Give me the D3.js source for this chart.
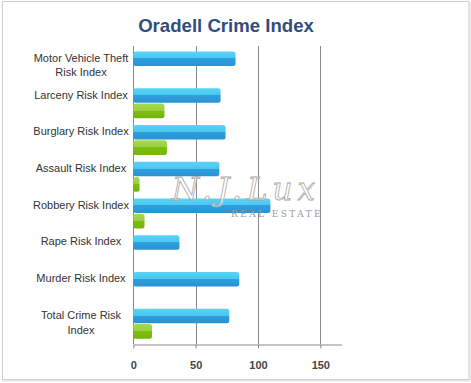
<!DOCTYPE html>
<html>
<head>
<meta charset="utf-8">
<script src="https://cdn.jsdelivr.net/npm/d3@7"></script>
<style>
  html, body { margin: 0; padding: 0; background: #fff; }
  svg { display: block; }
</style>
</head>
<body>
<svg id="chart" width="471" height="383"></svg>
<script>
const categories = [
  "Motor Vehicle Theft Risk Index",
  "Larceny Risk Index",
  "Burglary Risk Index",
  "Assault Risk Index",
  "Robbery Risk Index",
  "Rape Risk Index",
  "Murder Risk Index",
  "Total Crime Risk Index"
];
const labelLines = [
  ["Motor Vehicle Theft", "Risk Index"],
  ["Larceny Risk Index"],
  ["Burglary Risk Index"],
  ["Assault Risk Index"],
  ["Robbery Risk Index"],
  ["Rape Risk Index"],
  ["Murder Risk Index"],
  ["Total Crime Risk", "Index"]
];
const blueValues = [82, 70, 74, 69, 110, 37, 85, 77];
const greenValues = [null, 25, 27, 5, 9, null, null, 15];
const tickValues = [0, 50, 100, 150];
const xMax = 167;

(function () {
const svg = d3.select("#chart");
const defs = svg.append("defs");

function grad(id, c1, c2) {
  const g = defs.append("linearGradient").attr("id", id)
    .attr("x1", 0).attr("y1", 0).attr("x2", 0).attr("y2", 1);
  g.append("stop").attr("offset", "0%").attr("stop-color", c1[0]);
  g.append("stop").attr("offset", "48%").attr("stop-color", c1[1]);
  g.append("stop").attr("offset", "48%").attr("stop-color", c2[0]);
  g.append("stop").attr("offset", "100%").attr("stop-color", c2[1]);
}
grad("gBlue", ["#5ad3f6", "#48c8f0"], ["#2f9fdc", "#2a92d3"]);
grad("gGreen", ["#a6da50", "#98d03e"], ["#80bd12", "#76b408"]);

// frame
const sh = defs.append("filter").attr("id", "shadow").attr("x", "-5%").attr("y", "-5%").attr("width", "110%").attr("height", "110%");
sh.append("feDropShadow").attr("dx", 1).attr("dy", 1).attr("stdDeviation", 0.8).attr("flood-color", "#000").attr("flood-opacity", 0.15);
svg.append("rect").attr("x", 2.5).attr("y", 1.5).attr("width", 466.5).attr("height", 378)
  .attr("fill", "#fff").attr("stroke", "#cfcfcf").attr("stroke-width", 1).attr("filter", "url(#shadow)");

// title
svg.append("text").attr("x", 226).attr("y", 32)
  .attr("text-anchor", "middle")
  .attr("font-family", "Liberation Sans, Arial, sans-serif")
  .attr("font-weight", "bold").attr("font-size", 18.6)
  .attr("fill", "#2f4e7e")
  .text("Oradell Crime Index");

const plotLeft = 133.3, plotTop = 46, plotBottom = 344;
const x = d3.scaleLinear().domain([0, xMax]).range([plotLeft, plotLeft + 1.2467 * xMax]);
const y = d3.scaleBand().domain(categories).range([plotTop, plotBottom]).paddingInner(0).paddingOuter(0.055);
const yi = d3.scaleBand().domain(["blue", "green"]).range([3.4, 33.4]).paddingInner(0.04);

// gridlines
svg.append("g").selectAll("line").data(tickValues).join("line")
  .attr("x1", d => Math.round(x(d)) + 0.5).attr("x2", d => Math.round(x(d)) + 0.5)
  .attr("y1", plotTop).attr("y2", plotBottom)
  .attr("stroke", "#8a8a8a").attr("stroke-width", 1);

// x axis
const axis = svg.append("g").attr("transform", `translate(0,${plotBottom + 0.5})`)
  .call(d3.axisBottom(x).tickValues(tickValues).tickSize(4).tickPadding(13).tickSizeOuter(0));
axis.select(".domain").attr("stroke", "#8a8a8a");
axis.selectAll(".tick line").attr("stroke", "#8a8a8a");
axis.selectAll(".tick text")
  .attr("font-family", "Liberation Sans, Arial, sans-serif")
  .attr("font-size", 11).attr("font-weight", "bold").attr("fill", "#444");

// bars
const bars = svg.append("g");
categories.forEach((c, i) => {
  const g = bars.append("g");
  g.append("rect")
    .attr("x", x(0)).attr("y", y(c) + yi("blue"))
    .attr("width", x(blueValues[i]) - x(0)).attr("height", yi.bandwidth())
    .attr("rx", 2.5).attr("fill", "url(#gBlue)");
  if (greenValues[i] != null) {
    g.append("rect")
      .attr("x", x(0)).attr("y", y(c) + yi("green"))
      .attr("width", x(greenValues[i]) - x(0)).attr("height", yi.bandwidth())
      .attr("rx", 2.5).attr("fill", "url(#gGreen)");
  }
});

// category labels
const labels = svg.append("g")
  .attr("font-family", "Liberation Sans, Arial, sans-serif")
  .attr("font-size", 11).attr("fill", "#333").attr("text-anchor", "middle");
categories.forEach((c, i) => {
  const cy = y(c) + yi("blue") + yi.bandwidth() / 2;
  const t = labels.append("text").attr("x", 81).attr("y", cy + 3);
  labelLines[i].forEach((ln, j) => {
    t.append("tspan").attr("x", 81).attr("dy", j === 0 ? 0 : 14.7).text(ln);
  });
});

// watermark
const wm = svg.append("g").attr("pointer-events", "none");
wm.append("text").attr("x", 246).attr("y", 200)
  .attr("text-anchor", "middle")
  .attr("font-family", "DejaVu Serif, serif").attr("font-style", "italic")
  .attr("font-size", 31).attr("letter-spacing", 5)
  .attr("fill", "#ffffff").attr("fill-opacity", 0.55)
  .attr("stroke", "#a8a8a8").attr("stroke-width", 0.8)
  .text("N.J.Lux");
wm.append("text").attr("x", 277).attr("y", 217)
  .attr("text-anchor", "middle")
  .attr("font-family", "DejaVu Serif, serif")
  .attr("font-size", 9).attr("letter-spacing", 2.4)
  .attr("fill", "#9a9a9a")
  .text("REAL ESTATE");
})();
</script>
</body>
</html>
